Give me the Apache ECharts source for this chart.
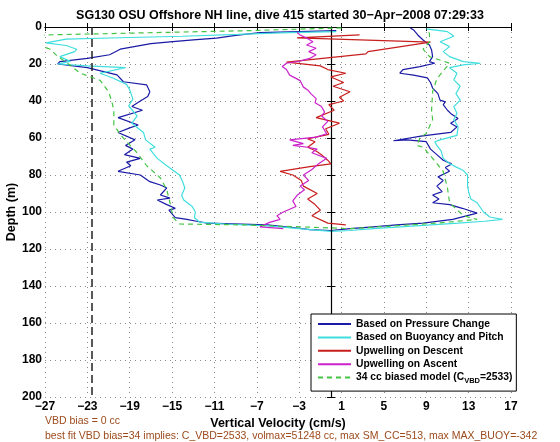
<!DOCTYPE html>
<html><head><meta charset="utf-8">
<script src="https://cdn.jsdelivr.net/npm/echarts@6/dist/echarts.min.js"></script>
<style>html,body{margin:0;padding:0;background:#fff}#c{width:560px;height:442px}</style>
</head><body><div id="c"></div>
<script>
const titleText = 'SG130 OSU Offshore NH line, dive 415 started 30\u2212Apr\u22122008 07:29:33';
const xTitle = 'Vertical Velocity (cm/s)';
const yTitle = 'Depth (m)';
const note1 = 'VBD bias = 0 cc';
const note2 = 'best fit VBD bias=34 implies: C_VBD=2533, volmax=51248 cc, max SM_CC=513, max MAX_BUOY=-342';
const seriesNames = ['Based on Pressure Change','Based on Buoyancy and Pitch','Upwelling on Descent','Upwelling on Ascent','34 cc biased model (C_VBD=2533)'];
const xMin = -27, xMax = 17, xStep = 4;
const yMin = 0, yMax = 200, yStep = 20;
const zeroLineX = 0;
const vbdBiasLineX = -22.6;

// Based on Pressure Change (velocity cm/s, depth m)
const pressVel = [0.5,-3,-6.7,-9,-10.8,-13,-15.2,-17,-19.9,-20.9,-23,-25.6,-25.8,-23,-20.2,-19.6,-17.4,-17.1,-17.3,-18,-18.8,-17.8,-20.1,-18.2,-19,-20.1,-18.5,-19.4,-18.7,-19.5,-18,-19.3,-18.9,-20.1,-18,-17.1,-16.1,-15.5,-16.1,-15.2,-16.4,-15.5,-14.7,-15.3,-14.7,-13.6,-12.7,-11.7,-6,-3.4,-2,0,1.8,4,6.2,8.7,11.5,13.8,12.4,11.2,9.6,10.2,9.6,10.5,10,10.6,10.1,11.2,10.8,11.4,10.6,10,9.4,9,7.2,5.9,8.5,11.3,11.9,11.3,12,11.3,11,10.6,10.8,10.3,10.1,9.6,9.4,9.1,7.8,6.5,6.8,8.4,9.8,9.3,9.6,9.5,9.3,8.7,8.2,7.8,7.5];
const pressDepth = [2,2.5,3,4.5,6,7,8,9,12,15,17,18.7,20,22,25.9,29.6,31.3,35,37.6,40,43,45,49,53,54.5,57,61,64,66,69,71,73,75,78,80,83.6,85.4,87,90.8,92.5,93.5,96,98,99,103,104,105,106,107,108.5,109.5,110,109,108,107,106,104,100.6,98,96,95,93,90.8,89,86,83,81,78,76,74,72,69,66,62,61,61.5,59,57,54,52,49.4,46.7,45,42,40.5,39.5,36,33,30,27.5,26,25,23,21.4,19.6,18.7,16,12.4,9.7,7,4.3,1.6,0.5];

// Based on Buoyancy and Pitch
const buoyVel = [0.5,-4,-8.8,-14,-20,-25,-26.9,-25,-24,-24.2,-25.6,-24.6,-25.8,-23,-19.4,-21.8,-20.6,-19.3,-19,-18.7,-19.1,-18.3,-18.8,-17.7,-17.5,-16.6,-17.1,-16.4,-15.5,-14.3,-14,-13.8,-14.1,-13.9,-13.1,-12.8,-12.9,-12.4,-10,-6,-3,0,1.8,4,8,12,14.5,16.2,15,14.4,13.8,13.2,13,12.9,12.9,12.5,11.8,11.2,10.6,10.4,10,9.8,10.3,11.9,12,11.6,11.9,11.6,12.2,11.8,12.2,11.6,11.9,11.2,12.5,14.1,12.5,11.2,10.6,11.2,10.3,11.6,11,9];
const buoyDepth = [2.5,3,4,5,5.8,6.6,8.6,10,12,13.3,16,18.6,20,21,22,25,27.6,31,34,39,42.7,48,52,57,61,65,66,71,75,80,83.6,87,91,93.5,97,100,103,105.5,106.5,107.5,109,110.5,110,109,107.5,106,105,104,102.7,100,95,93,89,86,80,77.6,75.6,73.8,71,67,64,62,61,58.6,54,50,46.7,43,39.5,36,32,28.6,25,22,20.5,19.6,18.7,16,13.3,10.6,8,5,2.5,1];

// Upwelling on Descent
const upDescVel = [2.7,-3.2,9.4,3.5,3.3,-4.2,-1,-0.3,1.4,0,1.2,0.2,1.8,0.8,1.2,-0.2,0.3,-1.4,0.8,-0.5,-0.2,-2.2,-1.5,-2.2,-1.4,-0.9,-0.3,0,-2,-4.8,-3.6,-2.8,-2.6,-1.3,-2.2,-1.5,-1,-1.8,-0.3,1.4];
const upDescDepth = [4.3,5.9,8.2,13.3,14.5,19,21,23,25,27,30,32,35,38,40,42,45,49,52,55,58,60.5,62,65,67,69,72,74,75.5,78,80,83,86,90,93,96,99,102,106,107];

// Upwelling on Ascent
const upAscVel = [-3.2,-2.9,-2.3,-1.7,-2.3,-1.4,-2.1,-1.4,-2,-3,-4.2,-4.6,-4.2,-3.9,-3.4,-2.9,-2.6,-2.2,-1.9,-1.4,-1.5,-0.9,-0.6,-0.9,-0.3,-0.8,-0.4,-1.4,-3.9,-2.6,-3.6,-2.2,-1.3,-1.8,-0.4,-1.2,-1.8,-2.6,-2.1,-2.9,-2.5,-3.2,-3.6,-3.3,-4.5,-5.1,-4.8,-5.8,-6.7,-4.5];
const upAscDepth = [3,4.3,6,8,9.7,11.5,13.3,15,17,18.5,19.6,21.4,23,26,27.5,29,32.5,34,36,38.7,41,43,46,48,51,54,57.7,59.5,61,63,64,65,66,68,71,74,77,80,83,86,88,91,94,97,100,102,104,105.6,108,109];

// 34 cc biased model
const modelVel = [1,-8,-18,-27,-29,-28,-26.5,-25.8,-25,-23.7,-21.8,-21,-20.7,-20.5,-20.5,-19.9,-19.3,-18.3,-17.4,-16.1,-15.5,-15.2,-14.9,-14.3,-8,0,1.8,6,10,13.8,12.5,11.2,11,10.6,9.6,8.7,8.1,8.4,9,9.6,9.5,9.6,10,11.2,9.3,8.7,9.3,9.3,9];
const modelDepth = [0.5,2,3.2,4.3,6,9,12,16,19,24.9,28.8,35,40,45,53,58,62,68,75,81.6,88,95,103,106.5,107,108.6,109,107.5,106,104,102,95,87,78,71,65,64,60,57.6,50,45,35,28,19.6,16,12,8,3.5,1];

const colors = ['#1a1aa6', '#3fdede', '#c81e1e', '#cc22cc', '#44c444'];

function zip(v, d) { return v.map((x, i) => [x, d[i]]); }
const minus = v => String(v).replace('-', '\u2212');

const chart = echarts.init(document.getElementById('c'), null, {renderer: 'canvas'});
const FONT = 'Liberation Sans, Arial, sans-serif';
const gridDotted = {show: true, lineStyle: {color: '#8a8a8a', type: [1, 4], width: 1}};

function lineSeries(name, data, color, dashed) {
  return {
    name, type: 'line', data, showSymbol: false, symbol: 'circle', symbolSize: 0,
    animation: false, silent: true,
    lineStyle: {color, width: 1.2, type: dashed ? [5, 4] : 'solid'},
    itemStyle: {color, opacity: 0}
  };
}

const series = [
  lineSeries(seriesNames[0], zip(pressVel, pressDepth), colors[0]),
  lineSeries(seriesNames[1], zip(buoyVel, buoyDepth), colors[1]),
  lineSeries(seriesNames[2], zip(upDescVel, upDescDepth), colors[2]),
  lineSeries(seriesNames[3], zip(upAscVel, upAscDepth), colors[3]),
  lineSeries(seriesNames[4], zip(modelVel, modelDepth), colors[4], true)
];
series[0].markLine = {
  silent: true, symbol: ['none', 'none'], animation: false, label: {show: false},
  data: [
    {xAxis: zeroLineX, lineStyle: {color: '#000', width: 1.2, type: 'solid'}},
    {xAxis: vbdBiasLineX, lineStyle: {color: '#222', width: 1.5, type: [8, 4]}}
  ]
};
series.forEach((s, i) => { s.z = 3 + i; });

const option = {
  animation: false,
  backgroundColor: '#fff',
  title: {text: titleText, left: 'center', top: 4, textStyle: {fontFamily: FONT, fontSize: 12.5, fontWeight: 'bold', color: '#000'}},
  grid: {left: 45, right: 49, top: 27, bottom: 45, show: false, containLabel: false, outerBoundsMode: 'none'},
  xAxis: [
    {type: 'value', min: xMin, max: xMax, interval: xStep, position: 'bottom',
     name: xTitle, nameLocation: 'middle', nameGap: 20, nameMoveOverlap: false,
     nameTextStyle: {fontFamily: FONT, fontSize: 12.5, fontWeight: 'bold', color: '#000'},
     axisLine: {lineStyle: {color: '#000', width: 1}},
     axisTick: {inside: true, length: 4, lineStyle: {color: '#000'}},
     axisLabel: {formatter: minus, fontFamily: FONT, fontSize: 12, fontWeight: 'bold', color: '#000', margin: 4},
     splitLine: gridDotted},
    {type: 'value', min: xMin, max: xMax, interval: xStep, position: 'top',
     axisLine: {lineStyle: {color: '#000', width: 1}},
     axisTick: {inside: true, length: 4, lineStyle: {color: '#000'}},
     axisLabel: {show: false}, splitLine: {show: false}}
  ],
  yAxis: [
    {type: 'value', min: yMin, max: yMax, interval: yStep, inverse: true, position: 'left',
     name: yTitle, nameLocation: 'middle', nameGap: 27, nameRotate: 90, nameMoveOverlap: false,
     nameTextStyle: {fontFamily: FONT, fontSize: 12.5, fontWeight: 'bold', color: '#000'},
     axisLine: {lineStyle: {color: '#000', width: 1}},
     axisTick: {inside: true, length: 4, lineStyle: {color: '#000'}},
     axisLabel: {fontFamily: FONT, fontSize: 12, fontWeight: 'bold', color: '#000', margin: 3},
     splitLine: gridDotted},
    {type: 'value', min: yMin, max: yMax, interval: yStep, inverse: true, position: 'right',
     axisLine: {lineStyle: {color: '#000', width: 1}},
     axisTick: {inside: true, length: 4, lineStyle: {color: '#000'}},
     axisLabel: {show: false}, splitLine: {show: false}}
  ],
  legend: {
    left: 311, top: 314, orient: 'vertical',
    width: 200,
    itemWidth: 33, itemHeight: 10, itemGap: 3.4,
    padding: [5, 4, 6, 6],
    backgroundColor: '#fff', borderColor: '#000', borderWidth: 1,
    itemStyle: {opacity: 0},
    textStyle: {fontFamily: FONT, fontSize: 10.3, fontWeight: 'bold', color: '#000',
      rich: {
        n: {fontFamily: FONT, fontSize: 10.3, fontWeight: 'bold', color: '#000'},
        s: {fontFamily: FONT, fontSize: 7.5, fontWeight: 'bold', color: '#000', verticalAlign: 'bottom', padding: [7, 0, 0, 0]}
      }},
    formatter: name => name.indexOf('C_VBD') >= 0 ? '{n|34 cc biased model (C}{s|VBD}{n|=2533)}' : name,
    data: seriesNames,
    z: 20
  },
  graphic: [
    {type: 'text', left: 45, top: 416, style: {text: note1, fill: '#9c4a1c', font: '10.5px Liberation Sans, Arial, sans-serif'}},
    {type: 'text', left: 45, top: 431, style: {text: note2, fill: '#9c4a1c', font: '10.5px Liberation Sans, Arial, sans-serif'}}
  ],
  series
};
chart.setOption(option);
</script>
</body></html>
